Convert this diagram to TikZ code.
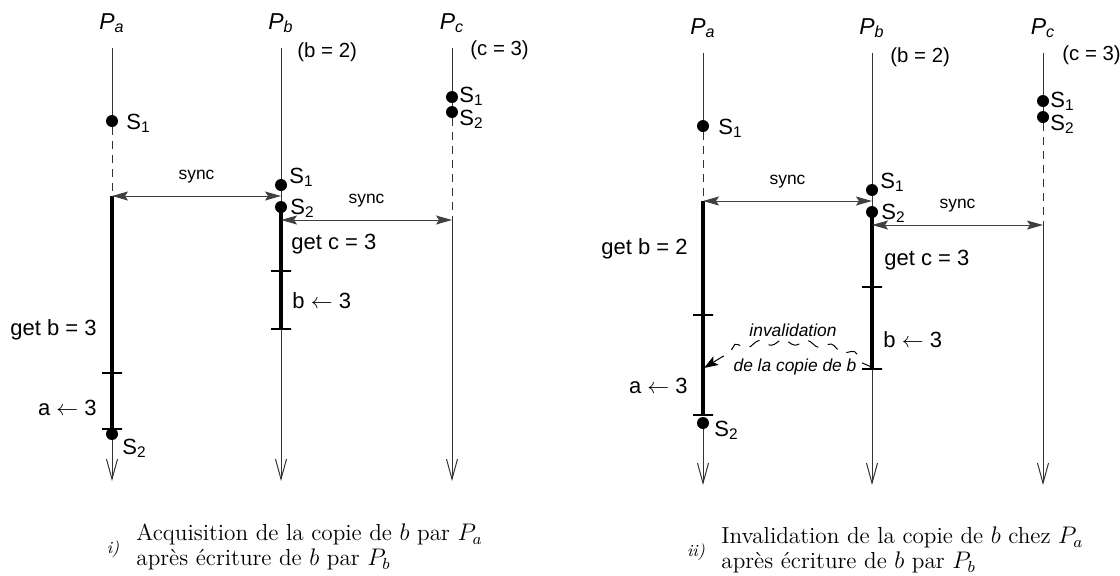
\documentclass[tikz,border=0pt]{standalone}
\usepackage{fontspec}
\setsansfont{Liberation Sans}
\usetikzlibrary{positioning,arrows.meta,decorations.pathmorphing}

\begin{document}
\begin{tikzpicture}[x=0.5pt, y=-0.5pt,
  life/.style={line width=0.5pt, black!80},
  lifeend/.style={life, -{Straight Barb[length=10pt, width=5.5pt]}},
  gap/.style={life, dash pattern=on 4pt off 3pt},
  act/.style={line width=2pt},
  ev/.style={circle, fill, inner sep=0pt, minimum size=6pt},
  tick/.style={draw, line width=0.6pt, inner sep=0pt, minimum width=10pt, minimum height=0pt},
  lbl/.style={font=\sffamily\fontsize{11}{13}\selectfont, inner sep=0pt},
  slbl/.style={lbl, anchor=west},
  vlbl/.style={font=\sffamily\fontsize{10.2}{12}\selectfont, inner sep=0pt, anchor=west},
  proc/.style={font=\sffamily\itshape\fontsize{11.5}{13}\selectfont, inner sep=0pt},
  syncarr/.style={line width=0.5pt, black!75,
    {Stealth[length=8pt, width=4.5pt, inset=1.5pt]}-{Stealth[length=8pt, width=4.5pt, inset=1.5pt]}},
  synclbl/.style={font=\sffamily\fontsize{8.7}{10}\selectfont, text=black, inner sep=0pt, above=6pt},
  note/.style={font=\sffamily\itshape\fontsize{8.7}{10}\selectfont, inner sep=0pt},
  inval/.style={line width=0.5pt, dash pattern=on 6pt off 5pt, decorate,
    decoration={snake, amplitude=1.4pt, segment length=12pt, pre length=2pt, post length=11pt},
    -{Stealth[length=7pt, width=5pt, inset=1.5pt]}},
  captext/.style={font=\fontsize{11.6}{12.5}\selectfont, align=left, inner sep=0pt, anchor=west},
  capnum/.style={font=\itshape\fontsize{8.5}{10}\selectfont, inner sep=0pt},
]
\useasboundingbox (0,0) rectangle (1120,575);

% ---- i) acquisition
\begin{scope}
\node[proc] (i-pa) at (112,23) {P\textsubscript{a}};
\node[proc] (i-pb) at (281,23) {P\textsubscript{b}};
\node[proc] (i-pc) at (452,23) {P\textsubscript{c}};
\node[vlbl] (i-bval) at (297,52) {(b = 2)};
\node[vlbl] (i-cval) at (470,50) {(c = 3)};

% P_a
\coordinate (i-a-top) at (112,48);
\node[ev] (i-a-s1) at (112,121) {};
\coordinate (i-a-sync) at (112,196);
\node[tick] (i-a-t1) at (112,373) {};
\node[tick] (i-a-t2) at (112,429) {};
\node[ev] (i-a-s2) at (112,434) {};
\coordinate (i-a-end) at (112,481);
\draw[life] (i-a-top) -- (i-a-s1);
\draw[gap] (i-a-s1) -- (i-a-sync);
\draw[act] (i-a-sync) -- (i-a-t1) -- (i-a-t2);
\draw[lifeend] (i-a-s2) -- (i-a-end);

% P_b
\coordinate (i-b-top) at (281,48);
\node[ev] (i-b-s1) at (281,185) {};
\node[ev] (i-b-s2) at (281,207) {};
\coordinate (i-b-sync1) at (281,196);
\coordinate (i-b-sync2) at (281,220);
\node[tick] (i-b-t1) at (281,271) {};
\node[tick] (i-b-t2) at (281,329) {};
\coordinate (i-b-end) at (281,481);
\draw[life] (i-b-top) -- (i-b-s1) -- (i-b-s2);
\draw[act] (i-b-s2.center) -- (i-b-t1) -- (i-b-t2);
\draw[lifeend] (i-b-t2) -- (i-b-end);

% P_c
\coordinate (i-c-top) at (452,48);
\node[ev] (i-c-s1) at (452,97) {};
\node[ev] (i-c-s2) at (452,112) {};
\coordinate (i-c-sync) at (452,220);
\coordinate (i-c-end) at (452,481);
\draw[life] (i-c-top) -- (i-c-s1) -- (i-c-s2);
\draw[gap] (i-c-s2) -- (i-c-sync);
\draw[lifeend] (i-c-sync) -- (i-c-end);

\draw[syncarr] (i-a-sync) -- node[synclbl] {sync} (i-b-sync1);
\draw[syncarr] (i-b-sync2) -- node[synclbl] {sync} (i-c-sync);

\node[slbl] (i-a-s1l) at (126,123) {S\textsubscript{1}};
\node[slbl] (i-a-s2l) at (122,448) {S\textsubscript{2}};
\node[slbl] (i-b-s1l) at (289,177) {S\textsubscript{1}};
\node[slbl] (i-b-s2l) at (290,208) {S\textsubscript{2}};
\node[slbl] (i-c-s1l) at (459,96) {S\textsubscript{1}};
\node[slbl] (i-c-s2l) at (459,119) {S\textsubscript{2}};

\node[lbl, anchor=west] (i-getc) at (291,244) {get c = 3};
\node[lbl, anchor=west] (i-bw) at (292,301) {b $\leftarrow$ 3};
\node[lbl, anchor=east] (i-getb) at (97,330) {get b = 3};
\node[lbl, anchor=east] (i-aw) at (97,408) {a $\leftarrow$ 3};

\node[capnum] (i-num) at (113,549) {i)};
\node[captext] (i-cap) at (136,547) {Acquisition de la copie de $b$ par $P_a$\\après écriture de $b$ par $P_b$};
\end{scope}

% ---- ii) invalidation
\begin{scope}[shift={(591,5)}]
\node[proc] (ii-pa) at (112,23) {P\textsubscript{a}};
\node[proc] (ii-pb) at (281,23) {P\textsubscript{b}};
\node[proc] (ii-pc) at (452,23) {P\textsubscript{c}};
\node[vlbl] (ii-bval) at (299,52) {(b = 2)};
\node[vlbl] (ii-cval) at (471,50) {(c = 3)};

% P_a
\coordinate (ii-a-top) at (112,48);
\node[ev] (ii-a-s1) at (112,121) {};
\coordinate (ii-a-sync) at (112,196);
\node[tick] (ii-a-t1) at (112,310) {};
\coordinate (ii-a-hit) at (113,363);
\node[tick] (ii-a-t2) at (112,410) {};
\node[ev] (ii-a-s2) at (112,418) {};
\coordinate (ii-a-end) at (112,480);
\draw[life] (ii-a-top) -- (ii-a-s1);
\draw[gap] (ii-a-s1) -- (ii-a-sync);
\draw[act] (ii-a-sync) -- (ii-a-t1) -- (ii-a-t2);
\draw[lifeend] (ii-a-s2) -- (ii-a-end);

% P_b
\coordinate (ii-b-top) at (281,48);
\node[ev] (ii-b-s1) at (281,185) {};
\node[ev] (ii-b-s2) at (281,207) {};
\coordinate (ii-b-sync1) at (281,196);
\coordinate (ii-b-sync2) at (281,220);
\node[tick] (ii-b-t1) at (281,282) {};
\node[tick] (ii-b-t2) at (281,364) {};
\coordinate (ii-b-end) at (281,480);
\draw[life] (ii-b-top) -- (ii-b-s1) -- (ii-b-s2);
\draw[act] (ii-b-s2.center) -- (ii-b-t1) -- (ii-b-t2);
\draw[lifeend] (ii-b-t2) -- (ii-b-end);

% P_c
\coordinate (ii-c-top) at (452,48);
\node[ev] (ii-c-s1) at (452,96) {};
\node[ev] (ii-c-s2) at (452,112) {};
\coordinate (ii-c-sync) at (452,220);
\coordinate (ii-c-end) at (452,480);
\draw[life] (ii-c-top) -- (ii-c-s1) -- (ii-c-s2);
\draw[gap] (ii-c-s2) -- (ii-c-sync);
\draw[lifeend] (ii-c-sync) -- (ii-c-end);

\draw[syncarr] (ii-a-sync) -- node[synclbl] {sync} (ii-b-sync1);
\draw[syncarr] (ii-b-sync2) -- node[synclbl] {sync} (ii-c-sync);

% invalidation message
\draw[inval] (ii-b-t2.center) .. controls (258,334) and (140,334) .. (ii-a-hit);
\node[note] (ii-inv1) at (202,325) {invalidation};
\node[note] (ii-inv2) at (204,362) {de la copie de b};

\node[slbl] (ii-a-s1l) at (127,123) {S\textsubscript{1}};
\node[slbl] (ii-a-s2l) at (123,425) {S\textsubscript{2}};
\node[slbl] (ii-b-s1l) at (289,177) {S\textsubscript{1}};
\node[slbl] (ii-b-s2l) at (290,208) {S\textsubscript{2}};
\node[slbl] (ii-c-s1l) at (459,96) {S\textsubscript{1}};
\node[slbl] (ii-c-s2l) at (459,119) {S\textsubscript{2}};

\node[lbl, anchor=east] (ii-getb) at (97,244) {get b = 2};
\node[lbl, anchor=west] (ii-getc) at (293,255) {get c = 3};
\node[lbl, anchor=west] (ii-bw) at (292,335) {b $\leftarrow$ 3};
\node[lbl, anchor=east] (ii-aw) at (97,381) {a $\leftarrow$ 3};

\node[capnum] (ii-num) at (105,547) {ii)};
\node[captext] (ii-cap) at (130,545) {Invalidation de la copie de $b$ chez $P_a$\\après écriture de $b$ par $P_b$};
\end{scope}
\end{tikzpicture}
\end{document}
